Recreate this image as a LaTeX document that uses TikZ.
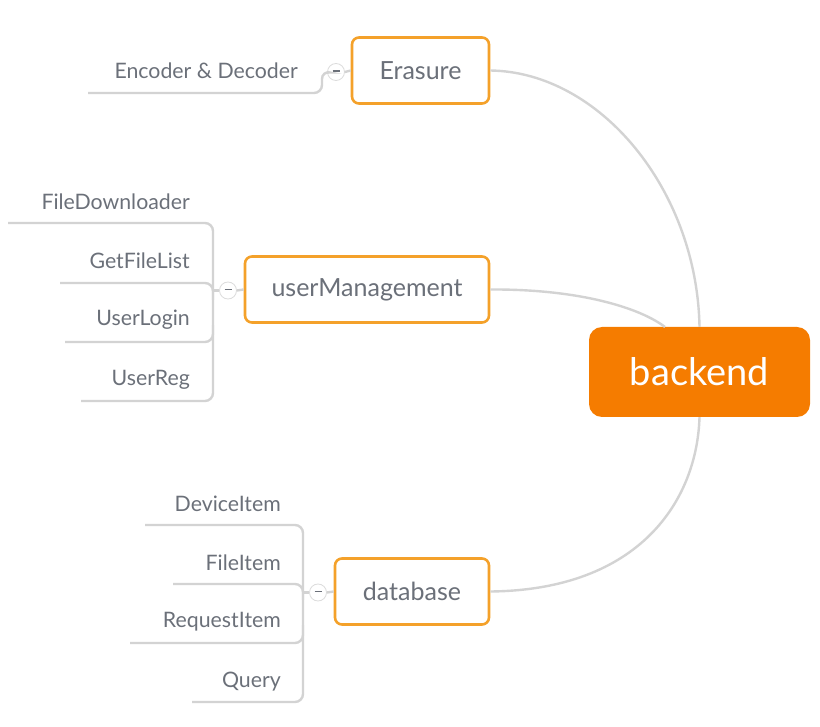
\documentclass[tikz,border=0pt]{standalone}
\usepackage{fontspec}
\setmainfont{Lato}
\definecolor{ora}{HTML}{F57C00}
\definecolor{oraline}{HTML}{F4A12A}
\definecolor{txt}{HTML}{6B7079}
\definecolor{lin}{HTML}{D3D3D3}
\begin{document}
\begin{tikzpicture}[x=1pt,y=-1pt,
  topic/.style={draw=oraline, line width=2.6pt, rounded corners=7pt, fill=white, text=txt, font=\fontsize{25}{28}\selectfont, minimum height=66pt, inner xsep=0pt},
  central/.style={fill=ora, rounded corners=13pt, text=white, font=\fontsize{38}{42}\selectfont, minimum width=221pt, minimum height=90pt},
  leaf/.style={text=txt, font=\fontsize{21.3}{24}\selectfont, anchor=east, inner sep=0pt},
  conn/.style={draw=lin, line width=2.4pt},
  branch/.style={draw=lin, line width=2.4pt, rounded corners=8pt},
  toggle/.style={circle, draw=lin!80, line width=0.8pt, fill=white, minimum size=17pt, inner sep=0pt, text=txt}
]
\useasboundingbox (0,0) rectangle (820,727);

% central
\node[central] (backend) at (699.5,372) {backend};

% topics
\node[topic, minimum width=137pt] (er) at (420.5,70.5) {Erasure};
\node[topic, minimum width=244pt] (um) at (367,289.5) {userManagement};
\node[topic, minimum width=154pt] (db) at (412,591.5) {database};

% main connectors
\draw[conn] (er.east) .. controls (600,72) and (697,190) .. (backend.north);
\draw[conn] (um.east) .. controls (580,289) and (640,308) .. (665,327);
\draw[conn] (db.east) .. controls (640,590) and (697,500) .. (backend.south);

% toggles
\node[toggle] (tger) at (336,72) {\rule[2pt]{7pt}{1.8pt}};
\node[toggle] (tgum) at (228,290.5) {\rule[2pt]{7pt}{1.8pt}};
\node[toggle] (tgdb) at (318,592.5) {\rule[2pt]{7pt}{1.8pt}};
\draw[conn] (tger.east) -- (er.west);
\draw[conn] (tgum.east) -- (um.west);
\draw[conn] (tgdb.east) -- (db.west);

% Erasure child
\node[leaf] (enc) at (298,71) {Encoder \& Decoder};
\coordinate (encL) at (88,93);
\draw[branch] (encL) -- (322,93) -- (322,71) -- (tger.west);

% userManagement children
\node[leaf] (fd) at (190,202) {FileDownloader};
\node[leaf] (gf) at (190,261) {GetFileList};
\node[leaf] (ul) at (190,320) {UserLogin};
\node[leaf] (ur) at (190,380) {UserReg};
\coordinate (fdL) at (8,223);
\coordinate (gfL) at (60,283);
\coordinate (ulL) at (65,342);
\coordinate (urL) at (81,401);
\draw[branch] (fdL) -- (213,223) -- (213,401) -- (urL);
\draw[branch] (gfL) -- (213,283) -- (213,300);
\draw[branch] (ulL) -- (213,342) -- (213,325);
\draw[conn] (213,290.5) -- (tgum.west);

% database children
\node[leaf] (di) at (281,504) {DeviceItem};
\node[leaf] (fi) at (281,563) {FileItem};
\node[leaf] (ri) at (281,622) {RequestItem};
\node[leaf] (qu) at (281,682) {Query};
\coordinate (diL) at (145,525);
\coordinate (fiL) at (173,584);
\coordinate (riL) at (130,643);
\coordinate (quL) at (192,702);
\draw[branch] (diL) -- (303,525) -- (303,702) -- (quL);
\draw[branch] (fiL) -- (303,584) -- (303,600);
\draw[branch] (riL) -- (303,643) -- (303,625);
\draw[conn] (303,592.5) -- (tgdb.west);
\end{tikzpicture}
\end{document}
